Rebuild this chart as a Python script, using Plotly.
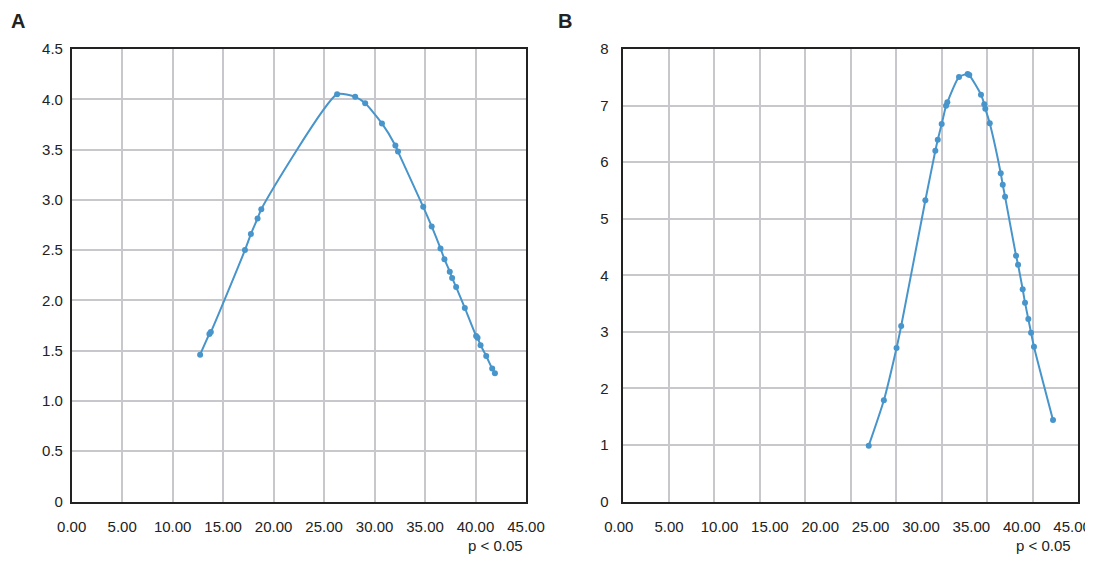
import plotly.graph_objects as go

# ---------------- data ----------------
a_x = [12.72, 13.64, 13.78, 17.16, 17.75, 18.41, 18.78, 26.29, 28.08, 29.07, 30.73,
       32.06, 32.32, 34.82, 35.66, 36.53, 36.92, 37.45, 37.68, 38.08, 38.94, 40.06,
       40.20, 40.50, 41.06, 41.65, 41.92]
a_y = [1.46, 1.665, 1.685, 2.50, 2.66, 2.815, 2.907, 4.05, 4.024, 3.96, 3.76,
       3.54, 3.48, 2.93, 2.735, 2.517, 2.41, 2.285, 2.223, 2.133, 1.925, 1.647,
       1.628, 1.555, 1.447, 1.322, 1.276]

b_x = [24.82, 26.32, 27.58, 28.04, 30.44, 31.43, 31.67, 32.06, 32.49, 32.62, 33.78,
       34.64, 34.80, 35.96, 36.29, 36.39, 36.83, 37.92, 38.12, 38.35, 39.44, 39.64,
       40.10, 40.33, 40.66, 40.93, 41.22, 43.11]
b_y = [0.987, 1.789, 2.714, 3.103, 5.325, 6.20, 6.397, 6.674, 6.998, 7.058, 7.505,
       7.558, 7.541, 7.192, 7.023, 6.945, 6.687, 5.804, 5.601, 5.389, 4.346, 4.187,
       3.752, 3.515, 3.227, 2.984, 2.737, 1.441]

x_ticks = [0, 5, 10, 15, 20, 25, 30, 35, 40, 45]
x_tick_text = [f"{v:.2f}" for v in x_ticks]
a_y_ticks = [0, 0.5, 1.0, 1.5, 2.0, 2.5, 3.0, 3.5, 4.0, 4.5]
a_y_text = ["0", "0.5", "1.0", "1.5", "2.0", "2.5", "3.0", "3.5", "4.0", "4.5"]
b_y_ticks = [0, 1, 2, 3, 4, 5, 6, 7, 8]
b_y_text = [str(v) for v in b_y_ticks]
panel_labels = ["A", "B"]
x_title = "p < 0.05"

# ---------------- style ----------------
WIN_W, WIN_H = 1093, 564
PAGE_MARGIN = 8                      # default body margin of the html page
W, H = WIN_W - PAGE_MARGIN, WIN_H - 2 * PAGE_MARGIN


def px_x(win_x):
    return (win_x - PAGE_MARGIN) / W


def px_y(win_y):
    return 1 - (win_y - PAGE_MARGIN) / H


BLUE = "#4795CB"
GRID = "#c8c8cc"
FRAME = "#222222"
FONT = "Liberation Sans, Arial, sans-serif"
TXT = "#222222"

A_DOM = [px_x(71.7), px_x(526)]
B_DOM = [px_x(623.3), px_x(1078.3)]
Y_DOM = [px_y(501.5), px_y(49)]

# In panel B of the source figure the tick labels are evenly spaced but do not
# sit on the grid, which has 10 equal divisions across the frame.
B_RANGE = [0.457, 45.62]
B_GRID_DIV = 10
b_grid = [B_RANGE[0] + k * (B_RANGE[1] - B_RANGE[0]) / B_GRID_DIV
          for k in range(B_GRID_DIV + 1)]
B_LABEL_NUDGE = 0.5  # label anchors kept inside the axis range, then shifted back

fig = go.Figure()

line_style = dict(color=BLUE, width=2, shape="spline", smoothing=0.6)
marker_style = dict(color=BLUE, size=6)

fig.add_trace(go.Scatter(x=a_x, y=a_y, mode="lines+markers", line=line_style,
                         marker=marker_style, xaxis="x", yaxis="y",
                         showlegend=False, hoverinfo="x+y"))
fig.add_trace(go.Scatter(x=b_x, y=b_y, mode="lines+markers", line=line_style,
                         marker=marker_style, xaxis="x2", yaxis="y2",
                         showlegend=False, hoverinfo="x+y"))

tick_font = dict(family=FONT, size=15, color=TXT)
frame = dict(showline=True, linecolor=FRAME, linewidth=1.5, mirror=True,
             zeroline=False, gridcolor=GRID, gridwidth=1.5, ticks="",
             automargin=False, fixedrange=True)

fig.update_layout(
    template="none",
    width=W, height=H,
    margin=dict(l=0, r=0, t=0, b=0),
    paper_bgcolor="white", plot_bgcolor="white",
    font=dict(family=FONT, color=TXT),
    xaxis=dict(domain=A_DOM, anchor="y", range=[0, 45], tickvals=x_ticks,
               ticktext=x_tick_text, tickfont=tick_font, showgrid=True,
               ticklabelstandoff=11, **frame),
    yaxis=dict(domain=Y_DOM, anchor="x", range=[0, 4.5], tickvals=a_y_ticks,
               ticktext=a_y_text, tickfont=tick_font, showgrid=True,
               ticklabelstandoff=4, **frame),
    xaxis2=dict(domain=B_DOM, anchor="y2", range=B_RANGE,
                tickvals=[v + B_LABEL_NUDGE for v in x_ticks],
                ticktext=x_tick_text, tickfont=tick_font, showgrid=False,
                ticklabelshift=-5, ticklabelstandoff=11,
                ticklabeloverflow="allow",
                minor=dict(tickmode="array", tickvals=b_grid, showgrid=True,
                           gridcolor=GRID, gridwidth=1.5, ticks=""),
                **frame),
    yaxis2=dict(domain=Y_DOM, anchor="x2", range=[0, 8], tickvals=b_y_ticks,
                ticktext=b_y_text, tickfont=tick_font, showgrid=True,
                ticklabelstandoff=10, **frame),
)

annotations = [
    dict(text=f"<b>{panel_labels[0]}</b>", x=px_x(9), y=px_y(20.5)),
    dict(text=f"<b>{panel_labels[1]}</b>", x=px_x(556), y=px_y(20.5)),
]
for ann in annotations:
    ann.update(xref="paper", yref="paper", xanchor="left", yanchor="middle",
               showarrow=False, font=dict(family=FONT, size=20, color=TXT))
for right in (px_x(525), px_x(1073)):
    annotations.append(dict(text=x_title, x=right, y=px_y(545.5), xref="paper",
                            yref="paper", xanchor="right", yanchor="middle",
                            showarrow=False,
                            font=dict(family=FONT, size=15, color=TXT)))
fig.update_layout(annotations=annotations)

fig.write_html("out.html")
